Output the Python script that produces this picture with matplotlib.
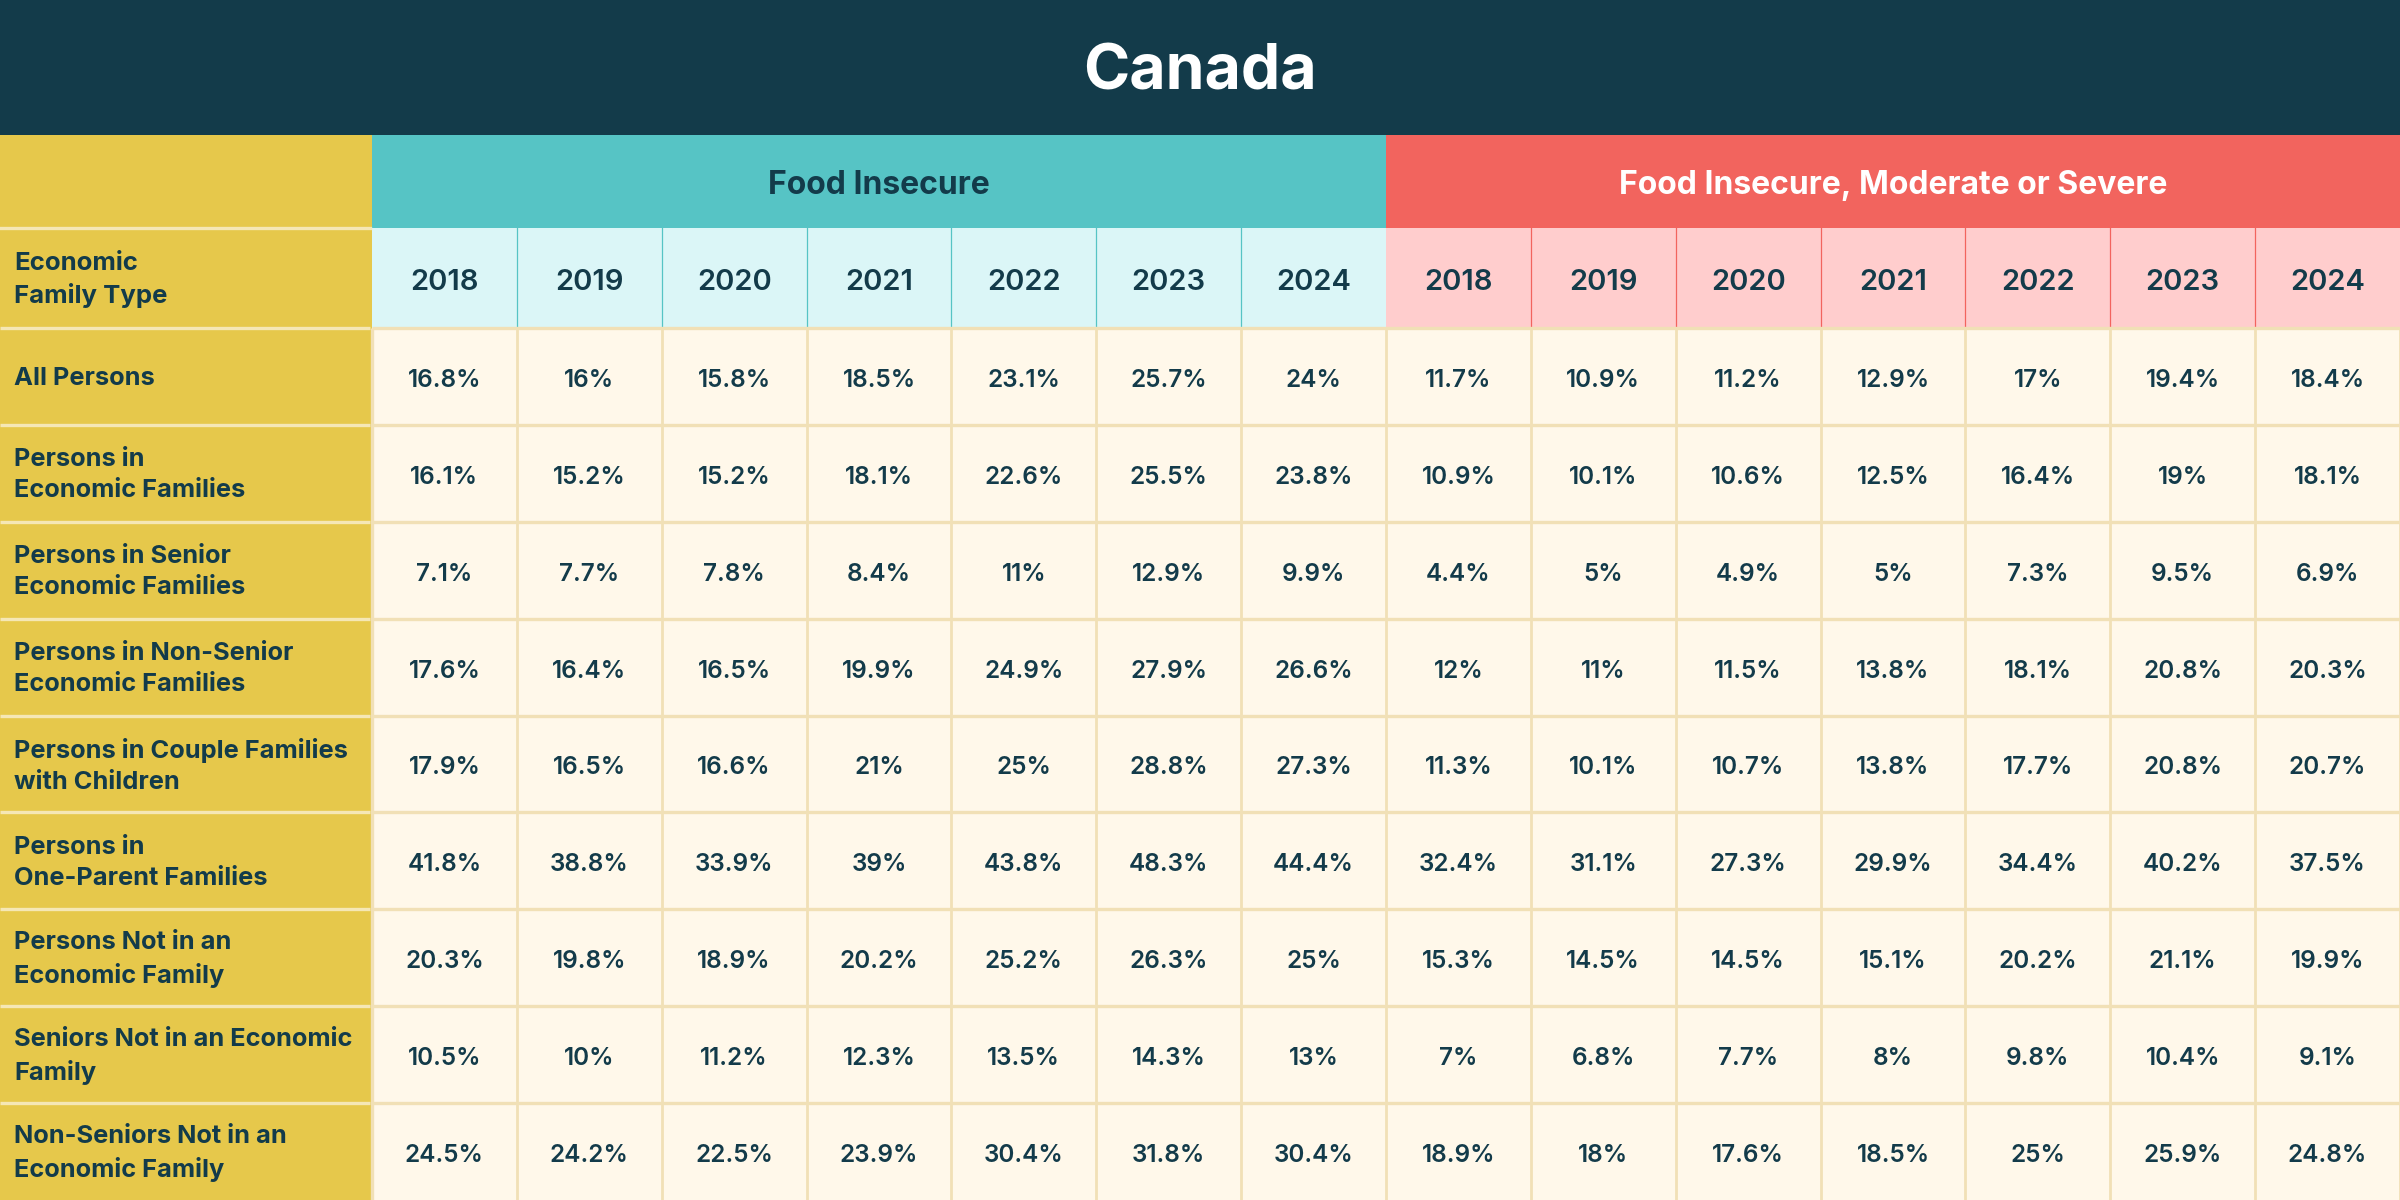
"""
Canada food insecurity table by economic family type.
"""
import matplotlib.pyplot as plt
from matplotlib.patches import Rectangle

# data
title = 'Canada'
group_names = ['Food Insecure', 'Food Insecure, Moderate or Severe']
years = [2018, 2019, 2020, 2021, 2022, 2023, 2024]
corner_label = 'Economic\nFamily Type'
row_labels = [
    'All Persons',
    'Persons in\nEconomic Families',
    'Persons in Senior\nEconomic Families',
    'Persons in Non-Senior\nEconomic Families',
    'Persons in Couple Families\nwith Children',
    'Persons in\nOne-Parent Families',
    'Persons Not in an\nEconomic Family',
    'Seniors Not in an Economic\nFamily',
    'Non-Seniors Not in an\nEconomic Family',
]
food_insecure = [
    [16.8, 16, 15.8, 18.5, 23.1, 25.7, 24],
    [16.1, 15.2, 15.2, 18.1, 22.6, 25.5, 23.8],
    [7.1, 7.7, 7.8, 8.4, 11, 12.9, 9.9],
    [17.6, 16.4, 16.5, 19.9, 24.9, 27.9, 26.6],
    [17.9, 16.5, 16.6, 21, 25, 28.8, 27.3],
    [41.8, 38.8, 33.9, 39, 43.8, 48.3, 44.4],
    [20.3, 19.8, 18.9, 20.2, 25.2, 26.3, 25],
    [10.5, 10, 11.2, 12.3, 13.5, 14.3, 13],
    [24.5, 24.2, 22.5, 23.9, 30.4, 31.8, 30.4],
]
moderate_severe = [
    [11.7, 10.9, 11.2, 12.9, 17, 19.4, 18.4],
    [10.9, 10.1, 10.6, 12.5, 16.4, 19, 18.1],
    [4.4, 5, 4.9, 5, 7.3, 9.5, 6.9],
    [12, 11, 11.5, 13.8, 18.1, 20.8, 20.3],
    [11.3, 10.1, 10.7, 13.8, 17.7, 20.8, 20.7],
    [32.4, 31.1, 27.3, 29.9, 34.4, 40.2, 37.5],
    [15.3, 14.5, 14.5, 15.1, 20.2, 21.1, 19.9],
    [7, 6.8, 7.7, 8, 9.8, 10.4, 9.1],
    [18.9, 18, 17.6, 18.5, 25, 25.9, 24.8],
]

# colours
DARK = '#133B4A'
MUSTARD = '#E6C84B'
TEAL = '#56C4C5'
TEAL_LIGHT = '#DBF6F7'
RED = '#F2645E'
PINK = '#FFCDCD'
CREAM = '#FFF8EA'
GRID = '#F1E0B6'
MUSTARD_LINE = '#F5E7B5'

plt.rcParams['font.family'] = ['Inter', 'DejaVu Sans']

W, H = 2400, 1200
title_h = 135
group_bot = 228
year_bot = 328
first_w = 372
n_years = len(years)
n_cols = 2 * n_years
col_w = (W - first_w) / n_cols
row_h = (H - year_bot) / len(row_labels)

fig = plt.figure(figsize=(24, 12), dpi=100)
ax = fig.add_axes([0, 0, 1, 1])
ax.set_xlim(0, W)
ax.set_ylim(H, 0)
ax.axis('off')


def box(x, y, w, h, color):
    ax.add_patch(Rectangle((x, y), w, h, facecolor=color, edgecolor='none'))


# title bar
box(0, 0, W, title_h, DARK)
ax.text(W / 2, title_h / 2 + 6, title, color='white', fontsize=45,
        fontweight='bold', ha='center', va='center')

# group header row
box(0, title_h, first_w, group_bot - title_h, MUSTARD)
group_cols = [(TEAL, TEAL_LIGHT, TEAL, DARK), (RED, PINK, RED, 'white')]
for g, name in enumerate(group_names):
    head, light, line, txt = group_cols[g]
    gx = first_w + g * n_years * col_w
    box(gx, title_h, n_years * col_w, group_bot - title_h, head)
    ax.text(gx + n_years * col_w / 2, (title_h + group_bot) / 2 + 4, name,
            color=txt, fontsize=23, fontweight='bold', ha='center', va='center')
    # year row
    box(gx, group_bot, n_years * col_w, year_bot - group_bot, light)
    for i, yr in enumerate(years):
        cx = gx + i * col_w
        if i > 0:
            ax.plot([cx, cx], [group_bot, year_bot], color=line, lw=0.9)
        ax.text(cx + col_w / 2, (group_bot + year_bot) / 2 + 4, str(yr),
                color=DARK, fontsize=21, fontweight='semibold',
                ha='center', va='center')

# corner label
box(0, group_bot, first_w, year_bot - group_bot, MUSTARD)
ax.text(14, (group_bot + year_bot) / 2 + 2, corner_label, color=DARK,
        fontsize=18.5, fontweight='bold', ha='left', va='center',
        linespacing=1.45)

# data rows
box(first_w, year_bot, W - first_w, H - year_bot, CREAM)
box(0, year_bot, first_w, H - year_bot, MUSTARD)
for r, label in enumerate(row_labels):
    y0 = year_bot + r * row_h
    yc = y0 + row_h / 2
    ax.text(14, yc + 2, label, color=DARK, fontsize=18.3, fontweight='bold',
            ha='left', va='center', linespacing=1.45)
    values = food_insecure[r] + moderate_severe[r]
    for c, v in enumerate(values):
        cx = first_w + (c + 0.5) * col_w
        ax.text(cx, yc + 4, f'{v:g}%', color=DARK, fontsize=17.5,
                fontweight='semibold', ha='center', va='center')

# grid lines
for r in range(len(row_labels)):
    y = year_bot + r * row_h
    ax.plot([first_w, W], [y, y], color=GRID, lw=2.4, solid_capstyle='butt')
    ax.plot([0, first_w - 2], [y, y], color=MUSTARD_LINE, lw=2.4,
            solid_capstyle='butt')
ax.plot([0, first_w - 2], [group_bot, group_bot], color=MUSTARD_LINE, lw=2.4)
for c in range(n_cols + 1):
    x = first_w + c * col_w
    ax.plot([x, x], [year_bot, H], color=GRID, lw=2.0 if c else 2.4,
            solid_capstyle='butt')

fig.savefig('out.png', dpi=100)
